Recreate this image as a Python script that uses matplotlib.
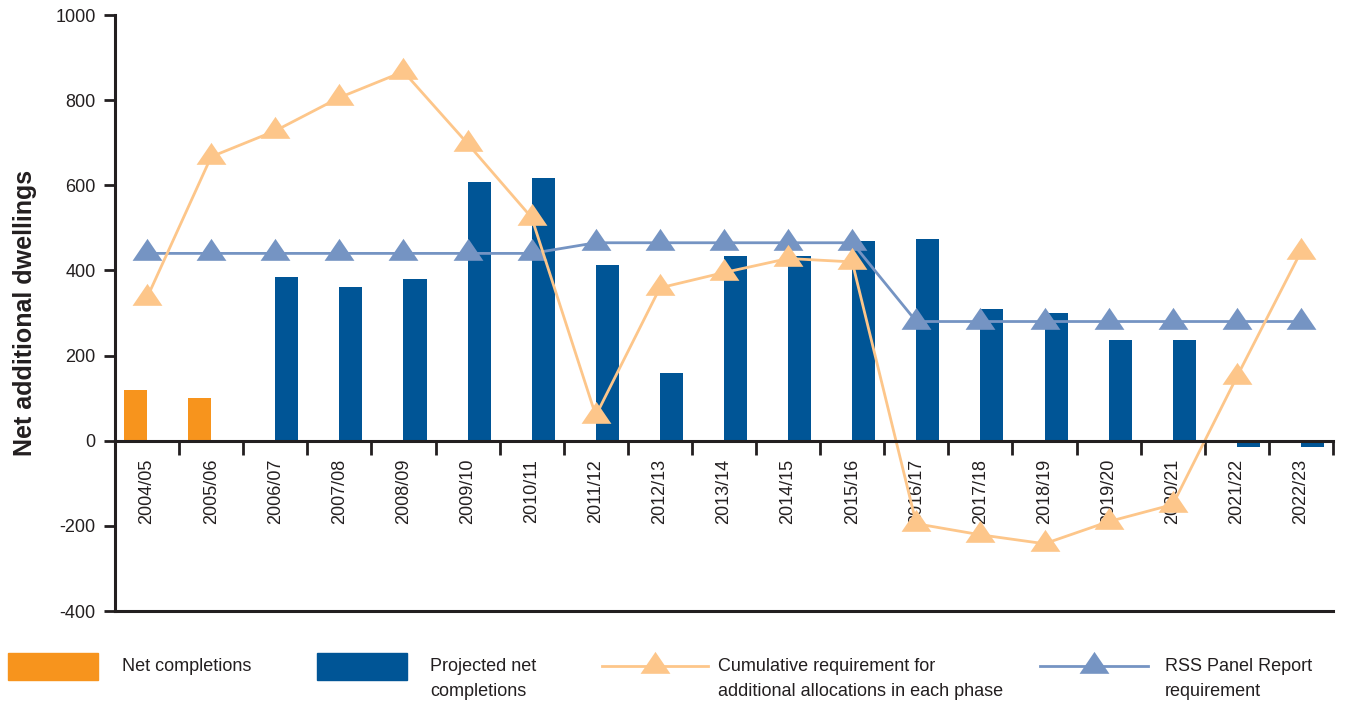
import matplotlib
matplotlib.use("Agg")
import matplotlib.pyplot as plt
from matplotlib.patches import Rectangle
from matplotlib.lines import Line2D
import numpy as np

plt.rcParams['font.family'] = ['Liberation Sans', 'DejaVu Sans']

categories = ['2004/05', '2005/06', '2006/07', '2007/08', '2008/09', '2009/10',
              '2010/11', '2011/12', '2012/13', '2013/14', '2014/15', '2015/16',
              '2016/17', '2017/18', '2018/19', '2019/20', '2020/21', '2021/22',
              '2022/23']
net_completions = [118, 100, np.nan, np.nan, np.nan, np.nan, np.nan, np.nan,
                   np.nan, np.nan, np.nan, np.nan, np.nan, np.nan, np.nan,
                   np.nan, np.nan, np.nan, np.nan]
projected = [np.nan, np.nan, 385, 362, 380, 608, 618, 413, 160, 435, 435, 470,
             475, 310, 300, 237, 237, -15, -15]
cumulative = [336, 667, 728, 806, 867, 698, 524, 59, 359, 395, 428, 420,
              -195, -221, -242, -190, -150, 150, 444]
rss = [440, 440, 440, 440, 440, 440, 440, 465, 465, 465, 465, 465,
       280, 280, 280, 280, 280, 280, 280]
yticks = [-400, -200, 0, 200, 400, 600, 800, 1000]

labels = ['Net completions', 'Projected net\ncompletions',
          'Cumulative requirement for\nadditional allocations in each phase',
          'RSS Panel Report\nrequirement']

C_ORANGE = '#f7941d'
C_BLUE = '#005596'
C_CUM = '#fdc68a'
C_RSS = '#7594c3'
C_AX = '#231f20'

W, H = 1347, 704
fig = plt.figure(figsize=(W / 100, H / 100), dpi=100)
ax = fig.add_axes([115 / W, 1 - 611 / H, (1333 - 115) / W, (611 - 15) / H])

x = np.arange(len(categories))
bw = 0.36
ax.bar(x - bw / 2, net_completions, width=bw, color=C_ORANGE, zorder=2)
ax.bar(x + bw / 2, projected, width=bw, color=C_BLUE, zorder=2)

tri = [(-1, -0.49), (1, -0.49), (0, 0.98)]
ax.plot(x, rss, color=C_RSS, lw=2.0, marker=tri, markersize=21.5,
        markeredgewidth=0, zorder=3)
ax.plot(x, cumulative, color=C_CUM, lw=2.0, marker=tri, markersize=21.5,
        markeredgewidth=0, zorder=4)

ax.set_xlim(-0.5, len(categories) - 0.5)
ax.set_ylim(-400, 1000)

for s in ['top', 'right']:
    ax.spines[s].set_visible(False)
ax.spines['left'].set_linewidth(2.2)
ax.spines['left'].set_color(C_AX)
ax.spines['bottom'].set_position(('data', 0))
ax.spines['bottom'].set_linewidth(2.2)
ax.spines['bottom'].set_color(C_AX)
ax.spines['bottom'].set_zorder(5)
ax.axhline(-400, color=C_AX, lw=2.2, clip_on=False, zorder=5)

ax.set_yticks(yticks)
ax.set_yticklabels([str(v) for v in yticks])
ax.tick_params(axis='y', length=8, width=2.0, color=C_AX, labelsize=13,
               labelcolor=C_AX, pad=6)

ax.set_xticks(x)
ax.set_xticklabels(categories, rotation=90, va='top', ha='center')
ax.tick_params(axis='x', which='major', length=0, pad=13, labelsize=13,
               labelcolor=C_AX)
ax.set_xticks(np.arange(0.5, len(categories), 1), minor=True)
ax.tick_params(axis='x', which='minor', length=10, width=2.0, color=C_AX,
               direction='out')
for lab in ax.get_xticklabels():
    lab.set_zorder(6)

ax.set_ylabel('Net additional dwellings', fontsize=18, fontweight='bold',
              color=C_AX)
ax.yaxis.set_label_coords(-78 / (1333 - 115), 0.5)


def fx(px):
    return px / W


def fy(py):
    return 1 - py / H


# Legend
fig.add_artist(Rectangle((fx(8), fy(680)), fx(90), 27 / H, color=C_ORANGE,
                         transform=fig.transFigure))
fig.add_artist(Rectangle((fx(317), fy(680)), fx(90), 27 / H, color=C_BLUE,
                         transform=fig.transFigure))
fig.add_artist(Line2D([fx(602), fx(655), fx(708)], [fy(666)] * 3, color=C_CUM,
                      lw=2.0, marker=tri, markersize=21.5, markevery=[1],
                      markeredgewidth=0, transform=fig.transFigure))
fig.add_artist(Line2D([fx(1040), fx(1094), fx(1148)], [fy(666)] * 3, color=C_RSS,
                      lw=2.0, marker=tri, markersize=21.5, markevery=[1],
                      markeredgewidth=0, transform=fig.transFigure))

text_x = [122, 430, 718, 1165]
for tx, lab in zip(text_x, labels):
    fig.text(fx(tx), fy(658), lab, ha='left', va='top', fontsize=13,
             color=C_AX, linespacing=1.58)

fig.savefig('out.png', dpi=100)
